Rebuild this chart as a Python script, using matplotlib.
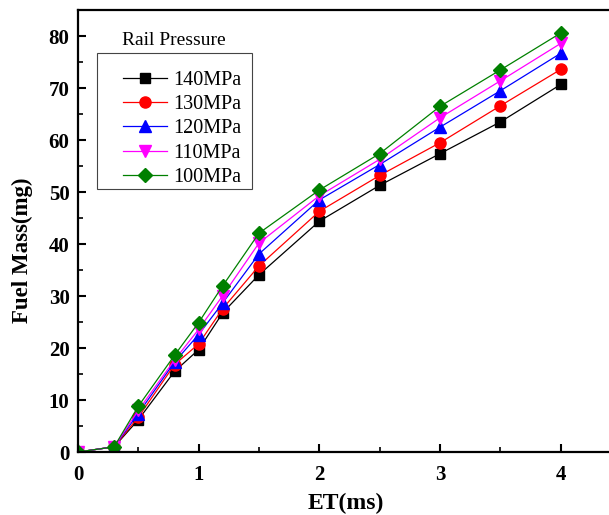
import numpy as np
import matplotlib
matplotlib.use("Agg")
import matplotlib.pyplot as plt
from matplotlib.patches import Rectangle

# ET (ms) sample points
et = [0, 0.3, 0.5, 0.8, 1.0, 1.2, 1.5, 2.0, 2.5, 3.0, 3.5, 4.0]

# fuel mass (mg) for each rail pressure
mass_140 = [0, 1.0, 6.2, 15.5, 19.7, 26.8, 34.1, 44.4, 51.3, 57.4, 63.5, 70.7]
mass_130 = [0, 1.0, 6.7, 16.8, 20.8, 27.6, 35.8, 46.3, 53.2, 59.5, 66.6, 73.6]
mass_120 = [0, 1.0, 7.4, 17.3, 22.6, 28.7, 38.1, 48.5, 55.3, 62.5, 69.5, 76.7]
mass_110 = [0, 1.0, 8.0, 17.7, 23.6, 30.1, 40.2, 49.3, 56.3, 64.3, 71.4, 78.6]
mass_100 = [0, 1.0, 8.8, 18.6, 24.9, 32.0, 42.1, 50.4, 57.4, 66.5, 73.5, 80.6]

labels = ["140MPa", "130MPa", "120MPa", "110MPa", "100MPa"]

SERIF = ["Liberation Serif", "DejaVu Serif"]


def main():
  fig = plt.figure(figsize=(6.09, 5.15), dpi=100, facecolor='w')
  # right spine sits just outside the picture, as in the original
  ax = fig.add_axes([0.128, 0.1223, 0.878, 0.858])

  series = [mass_140, mass_130, mass_120, mass_110, mass_100]
  colors = ['black', 'red', 'blue', 'magenta', 'green']
  markers = ['s', 'o', '^', 'v', 'D']
  sizes = [7, 8, 8, 8, 7]
  for ys, c, m, s, lab in zip(series, colors, markers, sizes, labels):
    ax.plot(et, ys, color=c, marker=m, markersize=s, linewidth=0.9,
            markeredgecolor=c, label=lab)

  ax.set_xlim(0, 4.43)
  ax.set_ylim(0, 85)
  ax.set_xticks([0, 1, 2, 3, 4])
  ax.set_xticks(np.arange(0.5, 4.4, 1.0), minor=True)
  ax.set_yticks(np.arange(0, 81, 10))
  ax.set_yticks(np.arange(5, 85, 10), minor=True)

  ax.tick_params(which='both', direction='in', top=False, right=False)
  ax.tick_params(which='major', length=6, width=1.5, labelsize=15)
  ax.tick_params(which='minor', length=3.5, width=1.2)
  ax.tick_params(axis='x', which='major', pad=9)
  ax.tick_params(axis='y', which='major', pad=6)
  for sp in ax.spines.values():
    sp.set_linewidth(1.6)
  for t in ax.get_xticklabels() + ax.get_yticklabels():
    t.set_fontfamily(SERIF)
    t.set_fontweight('bold')

  ax.set_xlabel("ET(ms)", fontsize=17, fontweight='bold', family=SERIF, labelpad=6)
  ax.set_ylabel("Fuel Mass(mg)", fontsize=16.5, fontweight='bold', family=SERIF,
                labelpad=11, y=0.457)

  # Origin-style legend: box drawn separately, wider padding on left/top
  ax.legend(loc='upper left', bbox_to_anchor=(0.084, 0.862), borderaxespad=0,
            prop={'family': SERIF, 'size': 14.5}, frameon=False,
            handlelength=2.2, handletextpad=0.3, labelspacing=0.25, borderpad=0)
  ax.add_patch(Rectangle((0.0355, 0.595), 0.29, 0.308, transform=ax.transAxes,
                         fill=True, facecolor='white', edgecolor='#444444',
                         linewidth=0.8, zorder=4.5))

  ax.text(0.083, 0.932, "Rail Pressure", transform=ax.transAxes, fontsize=14,
          family=SERIF, va='center', ha='left')

  fig.savefig("out.png", dpi=100)
  plt.close()


if __name__ == "__main__":
  main()
